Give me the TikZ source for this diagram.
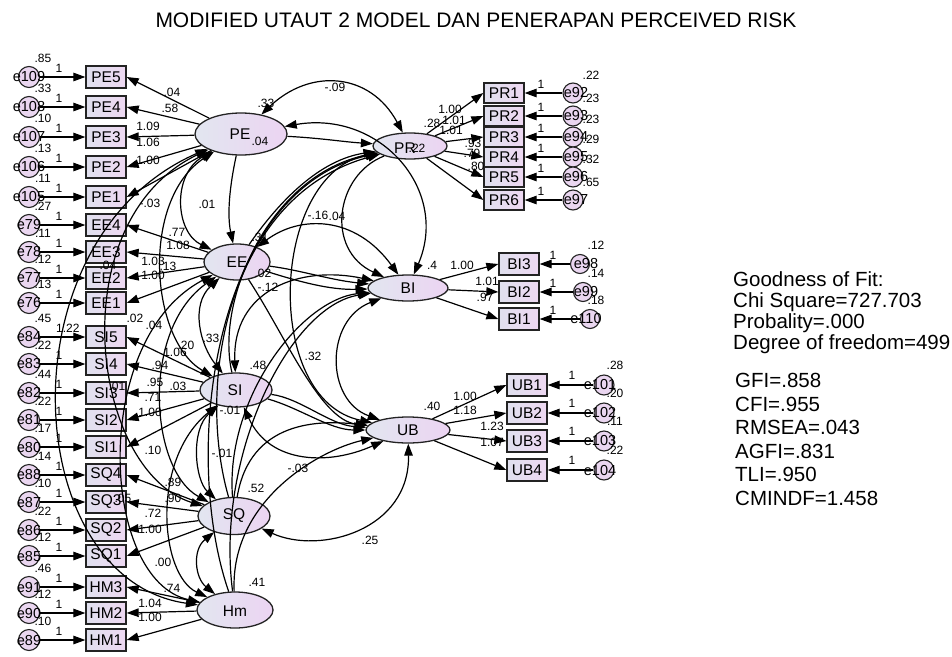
\documentclass[tikz,border=0pt]{standalone}
\usepackage{fontspec}
\setmainfont{Liberation Sans}
\usetikzlibrary{arrows.meta,shapes.geometric}
\definecolor{boxL}{RGB}{224,224,238}
\definecolor{boxR}{RGB}{238,216,242}
\definecolor{latL}{RGB}{226,230,240}
\definecolor{latR}{RGB}{236,212,242}
\definecolor{errC}{RGB}{234,214,240}
\definecolor{edge}{RGB}{35,35,35}
\begin{document}
\begin{tikzpicture}[x=1pt,y=-1pt,
  ind/.style={draw=edge,line width=1.3pt,minimum width=40pt,minimum height=22pt,inner sep=0pt,left color=boxL,right color=boxR,font=\fontsize{15.5}{15.5}\selectfont},
  err/.style={circle,draw=edge,line width=1.1pt,minimum size=21pt,inner sep=0pt,fill=errC},
  elab/.style={inner sep=0pt,font=\fontsize{14.5}{14.5}\selectfont},
  lat/.style={ellipse,draw=edge,line width=1.3pt,inner sep=0pt,left color=latL,right color=latR},
  llab/.style={inner sep=0pt,font=\fontsize{15.5}{15.5}\selectfont},
  num/.style={inner sep=0pt,font=\fontsize{12}{12}\selectfont},
  fit/.style={inner sep=0pt,anchor=base west,font=\fontsize{20.5}{20.5}\selectfont},
  arr/.style={-{Triangle[length=12pt,width=8.5pt]},line width=1.2pt},
  cov/.style={{Triangle[length=12pt,width=8.5pt]}-{Triangle[length=12pt,width=8.5pt]},line width=1.2pt}
]
\fill[white] (0,0) rectangle (952,656);
\useasboundingbox (0,0) rectangle (952,656);

\node[inner sep=0pt,anchor=base,font=\fontsize{21}{21}\selectfont] (title) at (476,27) {MODIFIED UTAUT 2 MODEL DAN PENERAPAN PERCEIVED RISK};

% latent variables
\node[lat,minimum width=92pt,minimum height=42pt] (PE) at (241,134) {};
\node[lat,minimum width=66pt,minimum height=36pt] (EE) at (237,262) {};
\node[lat,minimum width=72pt,minimum height=34pt] (SI) at (236,390) {};
\node[lat,minimum width=72pt,minimum height=37pt] (SQ) at (234,516) {};
\node[lat,minimum width=76pt,minimum height=36pt] (Hm) at (235,610) {};
\node[lat,minimum width=74pt,minimum height=26pt] (PR) at (410,146) {};
\node[lat,minimum width=80pt,minimum height=26pt] (BI) at (408,288) {};
\node[lat,minimum width=84pt,minimum height=26pt] (UB) at (408,430) {};

% left indicators
\foreach \n/\yy/\e/\v in {PE5/77/e109/.85, PE4/107/e108/.33, PE3/137/e107/.10, PE2/167/e106/.13, PE1/197/e105/.11,
  EE4/225/e79/.27, EE3/252/e78/.11, EE2/278/e77/.12, EE1/303/e76/.13,
  SI5/337/e84/.45, SI4/364/e83/.22, SI3/393/e82/.44, SI2/420/e81/.22, SI1/447/e80/.17,
  SQ4/475/e88/.14, SQ3/502/e87/.10, SQ2/530/e86/.22, SQ1/556/e85/.12,
  HM3/587/e91/.46, HM2/613/e90/.12, HM1/640/e89/.10}{
  \node[ind] (\n) at (106,\yy) {\n};
  \node[err] (c\e) at (29,\yy) {};
  \node[elab] (t\e) at (29,\yy) {\e};
  \draw[arr] (c\e) -- (\n);
  \node[num] (v\e) at (43,\yy-19) {\v};
}
\foreach \yy in {77,107,137,167,197,225,252,278,303,364,393,420,447,475,502,530,556,587,613,640}{
  \node[num] at (59,\yy-9) {1};
}
\node[num,anchor=west] (w84) at (56,328) {1.22};

% right indicators: PR
\foreach \n/\yy/\e/\v in {PR1/93/e92/.22, PR2/116/e93/.23, PR3/137/e94/.23, PR4/157/e95/.29, PR5/177/e96/.32, PR6/200/e97/.65}{
  \node[ind,minimum height=20pt] (\n) at (504,\yy) {\n};
  \node[err,minimum size=20pt] (c\e) at (573,\yy) {};
  \node[elab] (t\e) at (576,\yy) {\e};
  \draw[arr] (c\e) -- (\n);
  \node[num] at (541,\yy-9) {1};
  \node[num] at (591,\yy-18) {\v};
  \draw[arr] (PR) -- (\n.west);
}
% BI
\foreach \n/\yy/\e/\v/\cx in {BI3/264/e98/.12/580, BI2/292/e99/.14/583, BI1/319/e110/.18/590}{
  \node[ind] (\n) at (519,\yy) {\n};
  \node[err,minimum size=19pt] (c\e) at (\cx,\yy) {};
  \node[elab] (t\e) at (586,\yy) {\e};
  \draw[arr] (c\e) -- (\n);
  \node[num] at (553,\yy-9) {1};
  \node[num] at (596,\yy-19) {\v};
  \draw[arr] (BI) -- (\n.west);
}
% UB
\foreach \n/\yy/\e/\v in {UB1/385/e101/.28, UB2/413/e102/.20, UB3/441/e103/.11, UB4/470/e104/.22}{
  \node[ind] (\n) at (527,\yy) {\n};
  \node[err,minimum size=20pt] (c\e) at (604,\yy) {};
  \node[elab] (t\e) at (600,\yy) {\e};
  \draw[arr] (c\e) -- (\n);
  \node[num] at (572,\yy-10) {1};
  \node[num] at (615,\yy-20) {\v};
  \draw[arr] (UB) -- (\n.west);
}

% loadings (left)
\foreach \n in {PE5,PE4,PE3,PE2,PE1}{\draw[arr] (PE) -- (\n.east);}
\foreach \n in {EE4,EE3,EE2,EE1}{\draw[arr] (EE) -- (\n.east);}
\foreach \n in {SI5,SI4,SI3,SI2,SI1}{\draw[arr] (SI) -- (\n.east);}
\foreach \n in {SQ4,SQ3,SQ2,SQ1}{\draw[arr] (SQ) -- (\n.east);}
\foreach \n in {HM3,HM2,HM1}{\draw[arr] (Hm) -- (\n.east);}

% covariances among exogenous constructs (left arcs)
\draw[cov] (PE) .. controls (172,175) and (175,232) .. (EE);
\draw[cov] (PE) .. controls (140,200) and (150,340) .. (SI);
\draw[cov] (PE) .. controls (60,220) and (90,470) .. (SQ);
\draw[cov] (PE) .. controls (0,240) and (20,580) .. (Hm);
\draw[cov] (EE) .. controls (190,305) and (200,345) .. (SI);
\draw[cov] (EE) .. controls (140,330) and (150,470) .. (SQ);
\draw[cov] (EE) .. controls (90,340) and (100,580) .. (Hm);
\draw[cov] (SI) .. controls (190,430) and (195,480) .. (SQ);
\draw[cov] (SI) .. controls (150,460) and (160,575) .. (Hm);
\draw[cov] (SQ) .. controls (192,550) and (195,578) .. (Hm);

% structural paths
\draw[arr] (PE) .. controls (320,138) and (345,142) .. (PR);
\draw[arr] (EE) .. controls (280,200) and (320,160) .. (PR);
\draw[arr] (SI) .. controls (215,300) and (270,175) .. (PR);
\draw[arr] (SQ) .. controls (195,380) and (230,195) .. (PR);
\draw[arr] (Hm) .. controls (180,450) and (215,190) .. (PR);
\draw[cov] (PE) .. controls (310,68) and (370,72) .. (PR);
\draw[cov] (PE) .. controls (380,110) and (450,190) .. (BI);
\draw[arr] (PE) .. controls (232,175) and (226,210) .. (EE);
\draw[cov] (EE) .. controls (300,215) and (355,215) .. (BI);
\draw[arr] (EE) .. controls (300,270) and (330,280) .. (BI);
\draw[arr] (EE) .. controls (300,282) and (330,290) .. (BI);
\draw[cov] (SI) .. controls (232,290) and (300,265) .. (BI);
\draw[arr] (SQ) .. controls (225,400) and (300,300) .. (BI);
\draw[arr] (Hm) .. controls (215,455) and (290,305) .. (BI);
\draw[arr] (EE) .. controls (285,335) and (320,420) .. (UB);
\draw[arr] (SI) .. controls (300,398) and (330,425) .. (UB);
\draw[arr] (SI) .. controls (300,408) and (330,430) .. (UB);
\draw[arr] (SQ) .. controls (250,420) and (320,420) .. (UB);
\draw[arr] (Hm) .. controls (230,500) and (320,450) .. (UB);
\draw[cov] (SI) .. controls (270,465) and (330,465) .. (UB);
\draw[cov] (SQ) .. controls (320,555) and (410,530) .. (UB);
\draw[cov] (PR) .. controls (270,175) and (262,400) .. (UB);
\draw[cov] (BI) .. controls (325,320) and (325,400) .. (UB);
\draw[arr] (PR) .. controls (335,175) and (325,250) .. (BI);

% latent labels
\node[llab] at (240,134) {PE};
\node[num] at (260,141) {.04};
\node[llab] at (237,262) {EE};
\node[llab] at (235,390) {SI};
\node[llab] at (234,516) {SQ};
\node[llab] at (235,611) {Hm};
\node[llab] at (405,148) {PR};
\node[num] at (417,148) {.22};
\node[llab] at (408,288) {BI};
\node[llab] at (408,430) {UB};

% estimates
\foreach \t/\px/\py in {.33/266/103, -.09/335/87, .04/172/92, .58/170/108, 1.09/148/126, 1.06/148/142, 1.00/148/160, -.03/150/203,
  .01/207/204, .77/177/232, 1.08/178/245, 1.03/153/261, .13/168/266, .04/108/265, 1.00/153/275, .02/135/318, .04/154/325,
  .20/186/345, 1.06/175/352, .33/211/338, .94/160/365, .95/155/382, .03/178/386, .01/117/386, .71/153/397, 1.00/150/412,
  .10/153/450, .89/173/482, .90/173/498, .05/123/498, .72/153/513, 1.00/150/529, .00/163/562, .74/172/588, 1.04/150/603, 1.00/150/617,
  -.01/222/453, -.03/298/468, .25/370/540, .32/313/356, -.16/318/215, .04/337/216, .31/260/237, .02/263/273, -.12/268/287,
  .48/258/365, -.01/230/410, .52/256/488, .41/257/582,
  .28/432/123, 1.00/450/109, 1.01/454/120, 1.01/451/130, .93/473/143, .79/472/153, .80/476/166,
  .4/432/265, 1.00/462/265, 1.01/487/281, .97/485/297,
  .40/432/406, 1.00/465/396, 1.18/465/410, 1.23/492/426, 1.07/492/442}{
  \node[num] at (\px,\py) {\t};
}

% fit statistics
\node[fit] (g1) at (733,286) {Goodness of Fit:};
\node[fit] (g2) at (733,307) {Chi Square=727.703};
\node[fit] (g3) at (733,328) {Probality=.000};
\node[fit] (g4) at (733,349) {Degree of freedom=499};
\node[fit] (g5) at (735,387) {GFI=.858};
\node[fit] (g6) at (735,411) {CFI=.955};
\node[fit] (g7) at (735,434) {RMSEA=.043};
\node[fit] (g8) at (735,458) {AGFI=.831};
\node[fit] (g9) at (735,481) {TLI=.950};
\node[fit] (g10) at (735,505) {CMINDF=1.458};
\end{tikzpicture}
\end{document}
